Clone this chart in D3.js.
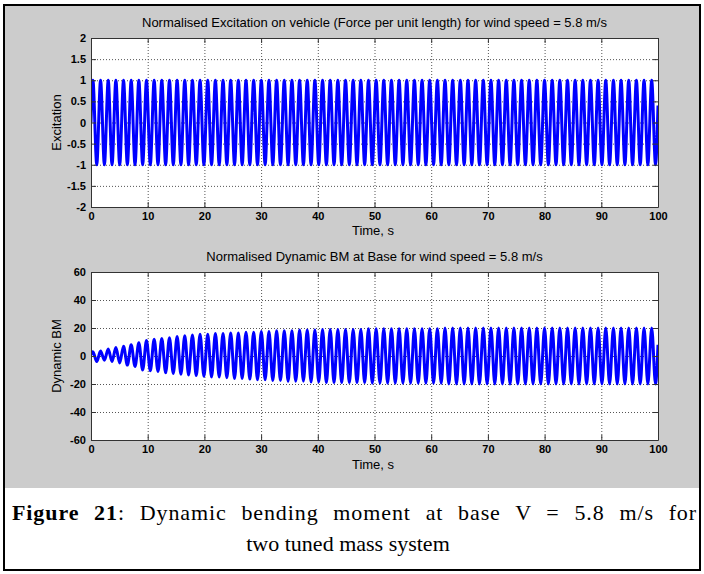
<!DOCTYPE html>
<html>
<head>
<meta charset="utf-8">
<script src="https://cdn.jsdelivr.net/npm/d3@7/dist/d3.min.js"></script>
<style>
body{margin:0;background:#fff;}
svg text{font-family:"Liberation Sans",Arial,sans-serif;}
</style>
</head>
<body>
<div id="figure"></div>
<script>
// values
var timeTicks = [0, 10, 20, 30, 40, 50, 60, 70, 80, 90, 100];
var excTicks = [-2, -1.5, -1, -0.5, 0, 0.5, 1, 1.5, 2];
var bmTicks = [-60, -40, -20, 0, 20, 40, 60];

var period = 1.35; // s, one oscillation

// excitation: peak and trough of every cycle
var excStart = 0, excEnd = 0.4;
var excPos = [1,1,1,1,1,1,1,1,1,1, 1,1,1,1,1,1,1,1,1,1, 1,1,1,1,1,1,1,1,1,1,
              1,1,1,1,1,1,1,1,1,1, 1,1,1,1,1,1,1,1,1,1, 1,1,1,1,1,1,1,1,1,1,
              1,1,1,1,1,1,1,1,1,1, 1,1,1,1];
var excNeg = [-1,-1,-1,-1,-1,-1,-1,-1,-1,-1, -1,-1,-1,-1,-1,-1,-1,-1,-1,-1,
              -1,-1,-1,-1,-1,-1,-1,-1,-1,-1, -1,-1,-1,-1,-1,-1,-1,-1,-1,-1,
              -1,-1,-1,-1,-1,-1,-1,-1,-1,-1, -1,-1,-1,-1,-1,-1,-1,-1,-1,-1,
              -1,-1,-1,-1,-1,-1,-1,-1,-1,-1, -1,-1,-1,-1];

// dynamic bending moment: peak and trough of every cycle
var bmStart = 0.7, bmEnd = 8;
var bmPos = [3, 3.5, 5, 6, 7, 8, 9.5, 11, 12, 12.5,
             13, 14, 14.5, 15, 15.5, 15.5, 16, 16, 16.5, 16.5,
             17, 17, 17.5, 17.5, 18, 18, 18, 18.5, 18.5, 18.5,
             19, 19, 19, 19, 19, 19, 19.5, 19.5, 19.5, 19.5,
             19.5, 19.5, 19.5, 19.5, 19.5, 19.5, 20, 20, 20, 20,
             20, 20, 20, 20, 20, 20, 20, 20, 20, 20,
             20, 20, 20, 20, 20, 20, 20, 20, 20, 20,
             20, 20, 20, 20];
var bmNeg = [-4, -3, -4, -5, -6.5, -7.5, -10, -10.5, -11, -12,
             -12.5, -13, -13.5, -14, -14.5, -15, -15, -15.5, -16, -16,
             -16.5, -17, -17, -17.5, -17.5, -18, -18, -18, -18.5, -18.5,
             -19, -19, -19, -19, -19, -19, -19.5, -19.5, -19.5, -19.5,
             -19.5, -19.5, -19.5, -19.5, -19.5, -19.5, -20, -20, -20, -20,
             -20, -20, -20, -20, -20, -20, -20, -20, -20, -20,
             -20, -20, -20, -20, -20, -20, -20, -20, -20, -20,
             -20, -20, -20, -20];

var W = 704, H = 574;

function peakPoints(start, pos, neg, end){
    var pts = [[0, start]];
    for (var i = 0; i < pos.length; i++){
        pts.push([period * (i + 0.25), pos[i]]);
        pts.push([period * (i + 0.75), neg[i]]);
    }
    pts.push([100, end]);
    return pts;
}

// matlab style labels: plain hyphen, no trailing zeros
function plain(d){ return String(d); }

var svg = d3.select("#figure").append("svg").attr("width", W).attr("height", H);

// figure frame
svg.append("rect").attr("x", 4).attr("y", 5).attr("width", 696).attr("height", 483).attr("fill", "#cccccc");
svg.append("rect").attr("x", 4).attr("y", 5).attr("width", 696).attr("height", 565)
    .attr("fill", "none").attr("stroke", "#000").attr("stroke-width", 2);

function panel(o){
    var x = d3.scaleLinear().domain([0, 100]).range([91, 658]);
    var y = d3.scaleLinear().domain(o.domain).range([o.bottom, o.top]);
    var g = svg.append("g");

    g.append("rect").attr("x", 91).attr("y", o.top).attr("width", 567).attr("height", o.bottom - o.top).attr("fill", "#fff");

    var clipId = "clip" + o.id;
    svg.append("clipPath").attr("id", clipId).append("rect")
        .attr("x", 91).attr("y", o.top).attr("width", 567).attr("height", o.bottom - o.top);

    // grid
    g.selectAll(".gx").data(timeTicks.slice(1, -1)).enter().append("line")
        .attr("x1", function(d){ return x(d) + 0.5; }).attr("x2", function(d){ return x(d) + 0.5; })
        .attr("y1", o.top).attr("y2", o.bottom)
        .attr("stroke", "#555").attr("stroke-width", 1).attr("stroke-dasharray", "1,2");
    g.selectAll(".gy").data(o.ticks.slice(1, -1)).enter().append("line")
        .attr("y1", function(d){ return y(d) + 0.5; }).attr("y2", function(d){ return y(d) + 0.5; })
        .attr("x1", 91).attr("x2", 658)
        .attr("stroke", "#555").attr("stroke-width", 1).attr("stroke-dasharray", "1,2");

    // signal
    var line = d3.line().x(function(d){ return x(d[0]); }).y(function(d){ return y(d[1]); })
        .curve(d3.curveMonotoneX);
    g.append("path").datum(o.points).attr("clip-path", "url(#" + clipId + ")")
        .attr("d", line).attr("fill", "none").attr("stroke", "#0000ff").attr("stroke-width", 3);

    // axes
    var xAxis = d3.axisBottom(x).tickValues(timeTicks).tickFormat(plain).tickSizeInner(-5).tickSizeOuter(0).tickPadding(5);
    var yAxis = d3.axisLeft(y).tickValues(o.ticks).tickFormat(plain).tickSizeInner(-5).tickSizeOuter(0).tickPadding(5);
    var ax = g.append("g").attr("transform", "translate(0," + o.bottom + ")").call(xAxis);
    var ay = g.append("g").attr("transform", "translate(91,0)").call(yAxis);
    g.append("g").attr("transform", "translate(0," + o.top + ")")
        .call(d3.axisTop(x).tickValues(timeTicks).tickSizeInner(-5).tickSizeOuter(0).tickFormat(""));
    g.append("g").attr("transform", "translate(658,0)")
        .call(d3.axisRight(y).tickValues(o.ticks).tickSizeInner(-5).tickSizeOuter(0).tickFormat(""));
    g.selectAll(".domain").attr("stroke", "#333");
    g.selectAll(".tick line").attr("stroke", "#333");
    [ax, ay].forEach(function(a){
        a.selectAll("text").attr("fill", "#000").style("font-size", "11px").style("font-weight", "bold")
            .style("font-family", "'Liberation Sans', Arial, sans-serif");
    });

    // texts
    svg.append("text").attr("x", 374.5).attr("y", o.top - 11).attr("text-anchor", "middle")
        .style("font-size", "13px").text(o.title);
    svg.append("text").attr("x", 373).attr("y", o.bottom + o.xlabelGap).attr("text-anchor", "middle")
        .style("font-size", "13px").text("Time, s");
    svg.append("text").attr("transform", "translate(61," + ((o.top + o.bottom) / 2) + ") rotate(-90)")
        .attr("text-anchor", "middle").style("font-size", "13px").text(o.ylabel);
}

panel({
    id: 1, top: 38, bottom: 207, domain: [-2, 2], ticks: excTicks, xlabelGap: 28,
    points: peakPoints(excStart, excPos, excNeg, excEnd),
    title: "Normalised Excitation on vehicle (Force per unit length) for wind speed = 5.8 m/s",
    ylabel: "Excitation"
});
panel({
    id: 2, top: 272, bottom: 440, domain: [-60, 60], ticks: bmTicks, xlabelGap: 29,
    points: peakPoints(bmStart, bmPos, bmNeg, bmEnd),
    title: "Normalised Dynamic BM at Base for wind speed = 5.8 m/s",
    ylabel: "Dynamic BM"
});

// caption: first line justified to the full width (a little letter spacing, the rest in the word gaps)
var serif = "'Liberation Serif','Times New Roman',serif";
var cap = svg.append("text").attr("x", 12).attr("y", 520)
    .style("font-family", serif).style("font-size", "22px").style("letter-spacing", "0.9px");
cap.append("tspan").style("font-weight", "bold").text("Figure 21");
cap.append("tspan").text(": Dynamic bending moment at base V = 5.8 m/s for");
var natural = cap.node().getComputedTextLength();
cap.style("word-spacing", ((685 - natural) / 11) + "px");
svg.append("text").attr("x", 348).attr("y", 551).attr("text-anchor", "middle")
    .style("font-family", serif).style("font-size", "22px")
    .text("two tuned mass system");
</script>
</body>
</html>
